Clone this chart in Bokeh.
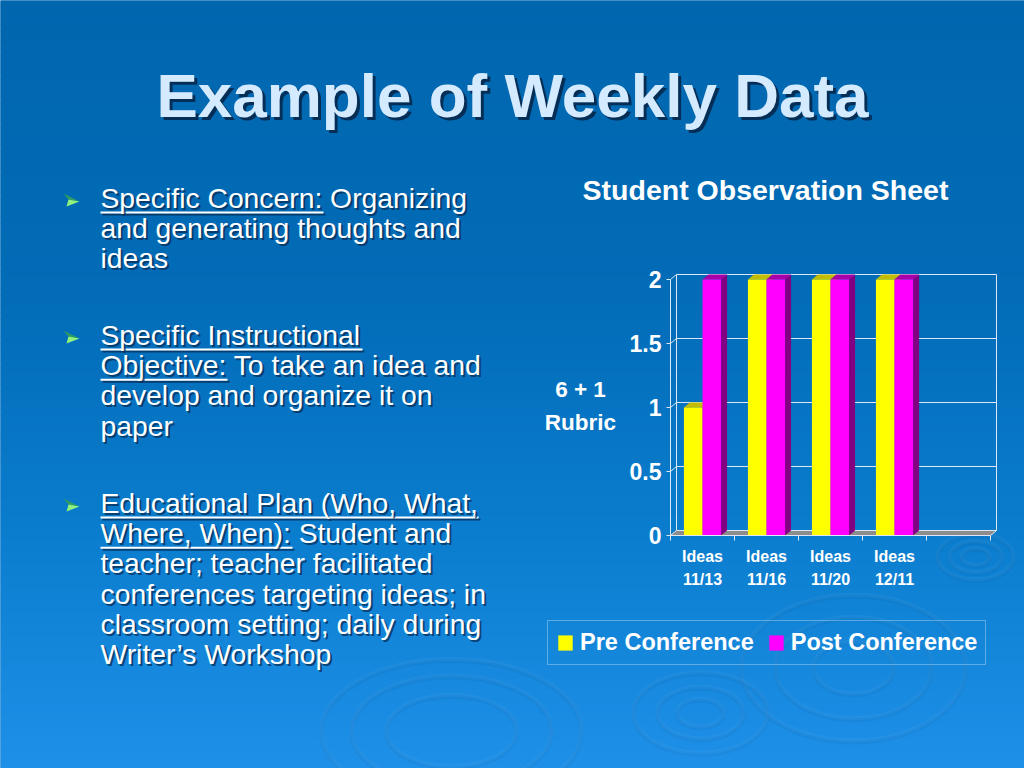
import numpy as np
from bokeh.plotting import figure
from bokeh.models import (Range1d, FixedTicker, Label, LinearAxis, Legend,
                          LegendItem)
from bokeh.embed import file_html
from bokeh.resources import INLINE

# ---------------- data ----------------
categories = ["Ideas\n11/13", "Ideas\n11/16", "Ideas\n11/20", "Ideas\n12/11", ""]
pre_conference = [1, 2, 2, 2]
post_conference = [2, 2, 2, 2]
series_names = ["Pre Conference", "Post Conference"]
y_ticks = [0, 0.5, 1, 1.5, 2]
y_tick_labels = ["0", "0.5", "1", "1.5", "2"]

slide_title = "Example of Weekly Data"
chart_title = "Student Observation Sheet"
y_label_lines = ["6 + 1", "Rubric"]

bullet_lines = [
    ["Specific Concern: Organizing",
     "and generating thoughts and",
     "ideas"],
    ["Specific Instructional",
     "Objective: To take an idea and",
     "develop and organize it on",
     "paper"],
    ["Educational Plan (Who, What,",
     "Where, When): Student and",
     "teacher; teacher facilitated",
     "conferences targeting ideas; in",
     "classroom setting; daily during",
     "Writer\u2019s Workshop"],
]

# ---------------- layout (page pixels) ----------------
W, H, M = 1024, 768, 0
FL, FB = 670, 535                        # chart origin on the page
PX_X, PX_Y = 64.0, 128.0                 # pixels per category / per unit
DX, DY = 6 / PX_X, 5 / PX_Y              # 3-D depth offset
FONT = "Liberation Sans"
BASE_K = 0.375                           # label anchor -> alphabetic baseline

p = figure(width=W, height=H, output_backend="svg", toolbar_location=None,
           x_range=Range1d(M, M + W), y_range=Range1d(M + H, M),
           x_axis_location=None, y_axis_location=None, min_border=0)
p.xgrid.visible = False
p.ygrid.visible = False
p.outline_line_color = None
p.background_fill_color = "#0a70ba"
p.border_fill_color = "#0a70ba"
p.extra_x_ranges = {"cx": Range1d((M - FL) / PX_X, (M + W - FL) / PX_X)}
p.extra_y_ranges = {"cy": Range1d((FB - (M + H)) / PX_Y, (FB - M) / PX_Y)}

# ---------------- background gradient ----------------
stops = [(0, (0, 102, 174)), (300, (2, 108, 184)), (520, (10, 124, 204)),
         (768, (30, 144, 232))]
step = 6
g_top, g_bot, g_col = [], [], []
for y0 in range(0, 768 + step, step):
    yc = y0 + step / 2
    c = stops[-1][1]
    for (a, ca), (b, cb) in zip(stops[:-1], stops[1:]):
        if a <= yc <= b:
            t = (yc - a) / (b - a)
            c = tuple(int(round(ca[k] + (cb[k] - ca[k]) * t)) for k in range(3))
            break
    g_top.append(y0 - 0.5)
    g_bot.append(y0 + step)
    g_col.append("#%02x%02x%02x" % c)
p.quad(left=-10, right=1040, top=g_top, bottom=g_bot, fill_color=g_col,
       line_color=None)

# faint decorative ripples
ripples = [((700, 712), [23, 43, 67], 0.6), ((853, 667), [40, 78, 112], 0.65),
           ((451, 730), [65, 100, 130], 0.55), ((975, 556), [14, 26, 38], 0.6)]
for (cx_, cy_), radii, ratio in ripples:
    for r in radii:
        p.ellipse(x=cx_, y=cy_ + 2, width=2 * r, height=2 * r * ratio,
                  fill_color=None, line_color="#00345f", line_alpha=0.06,
                  line_width=4)
        p.ellipse(x=cx_, y=cy_, width=2 * r, height=2 * r * ratio,
                  fill_color=None, line_color="#ffffff", line_alpha=0.04,
                  line_width=4)

# ---------------- 3-D chart ----------------
n = len(categories)
wall_col = "#dce8f4"
ck = dict(x_range_name="cx", y_range_name="cy")

# floor
p.patch([0, n, n + DX, DX], [0, 0, DY, DY], fill_color="#8c8c8c",
        line_color="#8c8c8c", line_width=0.5, **ck)
# back-wall grid lines with short left-wall diagonals
gxs = [[0, DX, n + DX] for v in y_ticks]
gys = [[v, v + DY, v + DY] for v in y_ticks]
p.multi_line(gxs, gys, line_color=wall_col, line_width=1, **ck)
p.multi_line([[DX, DX], [n + DX, n + DX], [n, n + DX]],
             [[DY, max(y_ticks) + DY], [DY, max(y_ticks) + DY], [0, DY]],
             line_color=wall_col, line_width=1, **ck)

groups = np.arange(len(pre_conference))
bar_w = 0.29
pre_x = groups + 0.355
post_x = groups + 0.645


def faces(xc, h):
    L = xc - bar_w / 2
    R = xc + bar_w / 2
    top_xs = [[l, r, r + DX, l + DX] for l, r in zip(L, R)]
    top_ys = [[v, v, v + DY, v + DY] for v in h]
    side_xs = [[r, r + DX, r + DX, r] for r in R]
    side_ys = [[0, DY, v + DY, v] for v in h]
    return top_xs, top_ys, side_xs, side_ys


tx, ty, sxs, sys_ = faces(pre_x, pre_conference)
p.patches(sxs, sys_, fill_color="#8c8a00", line_color=None, **ck)
p.patches(tx, ty, fill_color="#c4bc00", line_color=None, **ck)
r_pre = p.vbar(x=pre_x, top=pre_conference, width=bar_w, bottom=0,
               fill_color="#ffff00", line_color=None, **ck)

tx, ty, sxs, sys_ = faces(post_x, post_conference)
p.patches(sxs, sys_, fill_color="#820082", line_color=None, **ck)
p.patches(tx, ty, fill_color="#a800a8", line_color=None, **ck)
r_post = p.vbar(x=post_x, top=post_conference, width=bar_w, bottom=0,
                fill_color="#ff00ff", line_color=None, **ck)

# axes (fixed inside the frame at the chart origin)
xa = LinearAxis(x_range_name="cx", y_range_name="cy", fixed_location=0)
xa.ticker = FixedTicker(ticks=[i + 0.5 for i in range(n)],
                        minor_ticks=list(range(n + 1)))
xa.major_label_overrides = {i + 0.5: c for i, c in enumerate(categories)}
xa.bounds = (0, n)
xa.axis_line_color = wall_col
xa.major_tick_out = 0
xa.major_tick_in = 0
xa.minor_tick_out = 5
xa.minor_tick_in = 0
xa.minor_tick_line_color = wall_col
xa.major_label_standoff = 7
xa.major_label_text_font = FONT
xa.major_label_text_font_style = "bold"
xa.major_label_text_font_size = "16px"
xa.major_label_text_color = "#ffffff"
xa.major_label_text_line_height = 1.4
p.add_layout(xa, "below")

ya = LinearAxis(x_range_name="cx", y_range_name="cy", fixed_location=0)
ya.ticker = FixedTicker(ticks=y_ticks, minor_ticks=[])
ya.major_label_overrides = {float(v): t for v, t in zip(y_ticks, y_tick_labels)}
ya.bounds = (0, max(y_ticks))
ya.axis_line_color = wall_col
ya.major_tick_line_color = wall_col
ya.major_tick_out = 4
ya.major_tick_in = 0
ya.major_label_standoff = 5
ya.major_label_text_font = FONT
ya.major_label_text_font_style = "bold"
ya.major_label_text_font_size = "23px"
ya.major_label_text_color = "#ffffff"
p.add_layout(ya, "left")

# legend
legend = Legend(items=[LegendItem(label=series_names[0], renderers=[r_pre]),
                       LegendItem(label=series_names[1], renderers=[r_post])],
                orientation="horizontal", location=(547 - M, M + H - 665),
                glyph_width=18, glyph_height=19, label_standoff=6, spacing=13,
                padding=8, margin=0, border_line_color="#a8d0f0",
                border_line_width=1.5, background_fill_alpha=0,
                label_text_font=FONT, label_text_font_style="bold",
                label_text_font_size="23.5px", label_text_color="#ffffff")
p.add_layout(legend)


# ---------------- texts ----------------
def label(text, px, py, size, color="#ffffff", style="normal", align="left",
          shadow=None):
    ay = py - BASE_K * float(size.replace("px", ""))
    if shadow is not None:
        off, scol, salpha = shadow
        p.add_layout(Label(x=px + off, y=ay + off, text=text, text_font=FONT,
                           text_font_size=size, text_font_style=style,
                           text_color=scol, text_alpha=salpha,
                           text_align=align, text_baseline="alphabetic"))
    p.add_layout(Label(x=px, y=ay, text=text, text_font=FONT,
                       text_font_size=size, text_font_style=style,
                       text_color=color, text_align=align,
                       text_baseline="alphabetic"))


label(slide_title, 512, 118, "62px", color="#d4eaff", style="bold",
      align="center", shadow=(3, "#062447", 0.85))
label(chart_title, 765, 200, "28.5px", style="bold", align="center")
label(y_label_lines[0], 580, 397, "22.5px", style="bold", align="center")
label(y_label_lines[1], 580, 430, "22.5px", style="bold", align="center")

para_start = [208, 345, 513]
line_gap = 30.3
underlines = [[(0, 323)], [(0, 362), (1, 227)], [(0, 478), (1, 292)]]
text_left = 100
ax_up, ay_up, ax_lo, ay_lo = [], [], [], []
u_l, u_r, u_t, u_b = [], [], [], []
for para, start, unds in zip(bullet_lines, para_start, underlines):
    b = start
    ax_up.append([63, 79, 68]); ay_up.append([b - 15, b - 7, b - 9])
    ax_lo.append([68, 79, 66]); ay_lo.append([b - 9, b - 7, b - 2])
    for k, line in enumerate(para):
        label(line, text_left, start + k * line_gap, "28.3px",
              shadow=(2, "#08305a", 0.8))
    for k, right in unds:
        base = start + k * line_gap
        u_l.append(text_left); u_r.append(right)
        u_t.append(base + 3); u_b.append(base + 5)

p.patches(ax_up, ay_up, fill_color="#2f9a63", line_color=None)
p.patches(ax_lo, ay_lo, fill_color="#8ef27c", line_color=None)
u_l, u_r, u_t, u_b = map(np.array, (u_l, u_r, u_t, u_b))
p.quad(left=u_l + 2, right=u_r + 2, top=u_t + 2, bottom=u_b + 2,
       fill_color="#08305a", fill_alpha=0.8, line_color=None)
p.quad(left=u_l, right=u_r, top=u_t, bottom=u_b, fill_color="#ffffff",
       line_color=None)

open("out.html", "w").write(file_html(p, INLINE))
